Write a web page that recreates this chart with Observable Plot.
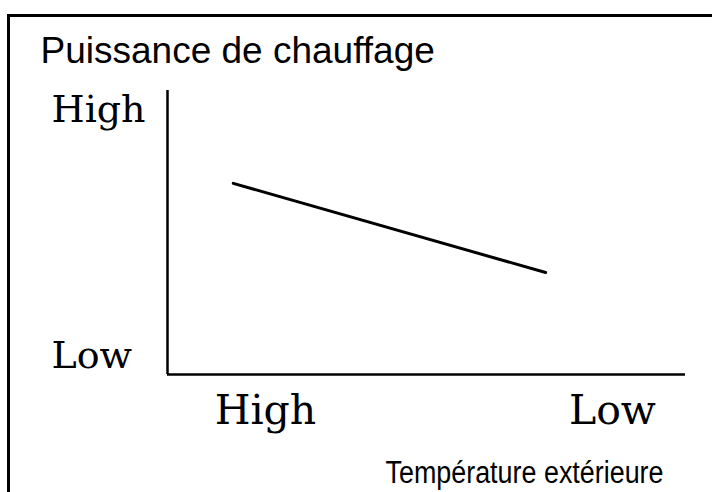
<!DOCTYPE html>
<html>
<head>
<meta charset="utf-8">
<script src="https://cdn.jsdelivr.net/npm/d3@7"></script>
<script src="https://cdn.jsdelivr.net/npm/@observablehq/plot@0.6"></script>
<style>
  html, body { margin: 0; padding: 0; background: #fff; }
  #wrap { position: relative; width: 712px; height: 492px; overflow: hidden; background: #fff; }
  #border { position: absolute; left: 7px; top: 14px; right: -5px; bottom: -5px;
            border-top: 3px solid #000; border-left: 3px solid #000; pointer-events: none; }
</style>
</head>
<body>
<div id="wrap"><div id="border"></div></div>
<script>
// Chart content
const titleText = ["Puissance de chauffage"];
const xAxisTitle = ["Température extérieure"];

// Line: outside temperature (0 = high … 100 = low) vs heating power (0 = low … 100 = high)
const lineTemp = [12.7, 73.0];
const linePower = [67.3, 35.9];

// Qualitative tick labels
const xTickLabels = ["High", "Low"];
const xTickValues = [18.9, 85.9];
const yTickLabels = ["High", "Low"];
const yTickValues = [93.3, 6.7];

const lineData = lineTemp.map((t, i) => ({temp: t, power: linePower[i]}));
const xTicks = xTickLabels.map((l, i) => ({label: l, v: xTickValues[i]}));
const yTicks = yTickLabels.map((l, i) => ({label: l, v: yTickValues[i]}));

const serif = "DejaVu Serif, serif";
const sans = "Liberation Sans, Arial, sans-serif";

const chart = Plot.plot({
  width: 712,
  height: 492,
  marginLeft: 167,
  marginRight: 27,
  marginTop: 90,
  marginBottom: 118,
  style: {background: "transparent", overflow: "visible"},
  x: {domain: [0, 100], axis: null},
  y: {domain: [0, 100], axis: null},
  marks: [
    Plot.ruleX([0], {stroke: "#000", strokeWidth: 2.5}),
    Plot.ruleY([0], {stroke: "#000", strokeWidth: 2.5}),
    Plot.line(lineData, {x: "temp", y: "power", stroke: "#000", strokeWidth: 3}),
    Plot.text(yTicks, {y: "v", text: "label", frameAnchor: "left", dx: -116,
      textAnchor: "start", lineAnchor: "middle", fontSize: 38, fontFamily: serif, fill: "#000"}),
    Plot.text(xTicks, {x: "v", text: "label", frameAnchor: "bottom", dy: 49,
      textAnchor: "middle", lineAnchor: "bottom", fontSize: 41, fontFamily: serif, fill: "#000"}),
    Plot.text(titleText, {text: d => d, frameAnchor: "top-left", dx: -127, dy: -28,
      textAnchor: "start", lineAnchor: "bottom", fontSize: 37, fontFamily: sans, fill: "#000"}),
    Plot.text(xAxisTitle, {text: d => d, frameAnchor: "bottom-left", dx: 385 - 167, dy: 108,
      textAnchor: "start", lineAnchor: "bottom", fontSize: 31, fontFamily: sans, fill: "#000"})
  ]
});
chart.style.position = "absolute";
chart.style.left = "0px";
chart.style.top = "0px";
// slightly condensed caption as in the reference
d3.select(chart).selectAll("text")
  .filter(function() { return this.textContent === xAxisTitle[0]; })
  .attr("textLength", 278).attr("lengthAdjust", "spacingAndGlyphs");
document.getElementById("wrap").appendChild(chart);
</script>
</body>
</html>
